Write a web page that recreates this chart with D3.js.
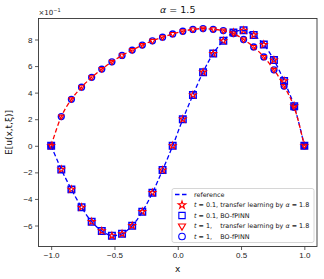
<!DOCTYPE html>
<html>
<head>
<meta charset="utf-8">
<script src="https://cdn.jsdelivr.net/npm/d3@7"></script>
<style>
  body { margin: 0; background: #fff; }
  svg { font-family: "DejaVu Sans", sans-serif; }
</style>
</head>
<body>
<div id="chart"></div>
<script>
// ---------------------------------------------------------------------------
// DATA
// ---------------------------------------------------------------------------
const xs = [-1, -0.92, -0.84, -0.76, -0.68, -0.60, -0.52, -0.44, -0.36, -0.28, -0.20, -0.12, -0.04,
            0.04, 0.12, 0.20, 0.28, 0.36, 0.44, 0.52, 0.60, 0.68, 0.76, 0.84, 0.92, 1];

// t = 0.1 (lower curve, blue reference)
const uT01 = [0, -0.178, -0.328, -0.463, -0.571, -0.641, -0.677, -0.662, -0.601, -0.496, -0.353, -0.183, 0.0,
              0.200, 0.382, 0.554, 0.694, 0.790, 0.853, 0.869, 0.834, 0.762, 0.645, 0.488, 0.298, 0];

// t = 1 (upper curve, red reference)
const uT1 = [0, 0.220, 0.350, 0.441, 0.515, 0.577, 0.632, 0.680, 0.720, 0.758, 0.790, 0.817, 0.842,
             0.862, 0.876, 0.882, 0.877, 0.867, 0.845, 0.800, 0.744, 0.669, 0.572, 0.450, 0.290, 0];

const xTicks = [-1.0, -0.5, 0.0, 0.5, 1.0];
const yTicks = [-0.6, -0.4, -0.2, 0, 0.2, 0.4, 0.6, 0.8];

const legendLabels = [
  { kind: "line",     text: ["reference"] },
  { kind: "star",     text: ["t", " = 0.1, transfer learning by ", "α", " = 1.8"] },
  { kind: "square",   text: ["t", " = 0.1, BO-fPINN"] },
  { kind: "triangle", text: ["t", " = 1,    transfer learning by ", "α", " = 1.8"] },
  { kind: "circle",   text: ["t", " = 1,    BO-fPINN"] }
];

// ---------------------------------------------------------------------------
// SETUP
// ---------------------------------------------------------------------------
const W = 324, H = 279;
const margin = { top: 18.5, right: 7, bottom: 32.5, left: 38.5 };
const width = W - margin.left - margin.right;
const height = H - margin.top - margin.bottom;

const svg = d3.select("#chart").append("svg")
  .attr("width", W).attr("height", H);

const g = svg.append("g").attr("transform", `translate(${margin.left},${margin.top})`);

const x = d3.scaleLinear().domain([-1.1, 1.1]).range([0, width]);
const y = d3.scaleLinear().domain([-0.758, 0.958]).range([height, 0]);

const BLUE = "#0000ff", RED = "#ff0000";
const fmtMinus = s => s.replace("-", "\u2212");

// axes
const xAxis = g.append("g").attr("transform", `translate(0,${height})`)
  .call(d3.axisBottom(x).tickValues(xTicks).tickSize(3.5).tickPadding(2.5)
    .tickFormat(d => fmtMinus(d3.format(".1f")(d))));
const yAxis = g.append("g")
  .call(d3.axisLeft(y).tickValues(yTicks).tickSize(3.5).tickPadding(2.5)
    .tickFormat(d => fmtMinus(String(Math.round(d * 10)))));

[xAxis, yAxis].forEach(a => {
  a.select(".domain").remove();
  a.selectAll("line").attr("stroke", "#333").attr("stroke-width", 0.8);
  a.selectAll("text").attr("fill", "#222").style("font-size", "8px");
});

// ---------------------------------------------------------------------------
// MARKERS
// ---------------------------------------------------------------------------
const sym = {
  star:     { type: d3.symbolStar,     size: 13, color: RED,  rot: 0,   sw: 1.1 },
  square:   { type: d3.symbolSquare,   size: 42, color: BLUE, rot: 0,   sw: 1.5 },
  triangle: { type: d3.symbolTriangle, size: 11, color: RED,  rot: 180, sw: 1.1 },
  circle:   { type: d3.symbolCircle,   size: 27, color: BLUE, rot: 0,   sw: 1.4 }
};

function drawMarkers(kind, vals) {
  const s = sym[kind];
  g.append("g").selectAll("path").data(xs.map((v, i) => [v, vals[i]]))
    .join("path")
    .attr("d", d3.symbol().type(s.type).size(s.size))
    .attr("transform", d => `translate(${x(d[0])},${y(d[1])}) rotate(${s.rot})`)
    .attr("fill", "none").attr("stroke", s.color).attr("stroke-width", s.sw);
}

drawMarkers("square", uT01);
drawMarkers("star", uT01);
drawMarkers("circle", uT1);
drawMarkers("triangle", uT1);

// ---------------------------------------------------------------------------
// REFERENCE LINES
// ---------------------------------------------------------------------------
const line = d3.line().x(d => x(d[0])).y(d => y(d[1])).curve(d3.curveCatmullRom);

g.append("path").datum(xs.map((v, i) => [v, uT01[i]]))
  .attr("d", line).attr("fill", "none").attr("stroke", BLUE)
  .attr("stroke-width", 1.3).attr("stroke-dasharray", "4.5,2.5");

g.append("path").datum(xs.map((v, i) => [v, uT1[i]]))
  .attr("d", line).attr("fill", "none").attr("stroke", RED)
  .attr("stroke-width", 1.3).attr("stroke-dasharray", "4.5,2.5");

// frame
g.append("rect").attr("width", width).attr("height", height)
  .attr("fill", "none").attr("stroke", "#333").attr("stroke-width", 0.9);

// ---------------------------------------------------------------------------
// TEXT
// ---------------------------------------------------------------------------
const title = svg.append("text").attr("x", margin.left + width / 2).attr("y", 13)
  .attr("text-anchor", "middle").style("font-size", "9.5px").attr("fill", "#111");
title.append("tspan").style("font-style", "italic").text("α");
title.append("tspan").text(" = 1.5");

const off = svg.append("text").attr("x", margin.left).attr("y", 15)
  .style("font-size", "7px").attr("fill", "#222").text("×10");
off.append("tspan").attr("dy", -3).style("font-size", "5px").text("−1");

svg.append("text").attr("x", margin.left + width / 2).attr("y", 272)
  .attr("text-anchor", "middle").style("font-size", "9px").attr("fill", "#111").text("x");

svg.append("text")
  .attr("transform", `translate(12,${margin.top + height / 2}) rotate(-90)`)
  .attr("text-anchor", "middle").style("font-size", "9px").attr("fill", "#111")
  .text("E[u(x,t,ξ)]");

// ---------------------------------------------------------------------------
// LEGEND
// ---------------------------------------------------------------------------
const legendSize = { star: 18, square: 40, triangle: 22, circle: 34 };
const lg = svg.append("g").attr("transform", "translate(172,188.5)");
lg.append("rect").attr("width", 142).attr("height", 54).attr("rx", 2)
  .attr("fill", "#fff").attr("fill-opacity", 0.8).attr("stroke", "#ccc").attr("stroke-width", 0.8);

legendLabels.forEach((item, i) => {
  const cy = 6 + i * 10.5;
  if (item.kind === "line") {
    lg.append("line").attr("x1", 3).attr("x2", 17).attr("y1", cy).attr("y2", cy)
      .attr("stroke", BLUE).attr("stroke-width", 1.3).attr("stroke-dasharray", "4.5,2.5");
  } else {
    const s = sym[item.kind];
    lg.append("path")
      .attr("d", d3.symbol().type(s.type).size(legendSize[item.kind]))
      .attr("transform", `translate(10,${cy}) rotate(${s.rot})`)
      .attr("fill", "none").attr("stroke", s.color).attr("stroke-width", 1.1);
  }
  const t = lg.append("text").attr("x", 22).attr("y", cy).attr("dy", "0.35em")
    .style("font-size", "6.4px").attr("fill", "#111").attr("xml:space", "preserve");
  item.text.forEach(part => {
    const sp = t.append("tspan").text(part);
    if (part === "t" || part === "α") sp.style("font-style", "italic");
  });
});
</script>
</body>
</html>
